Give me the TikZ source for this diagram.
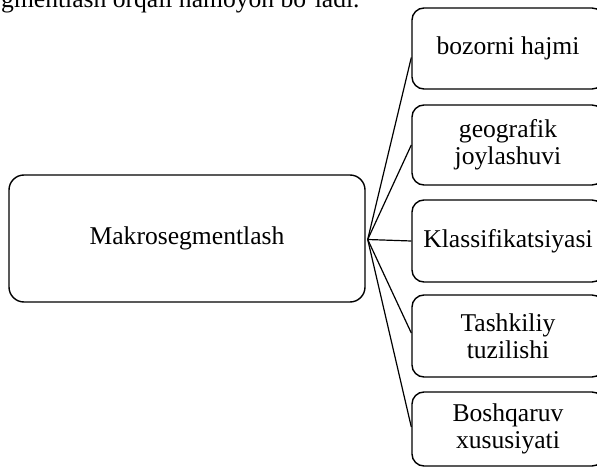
\documentclass[tikz,border=0pt]{standalone}
\usepackage{fontspec}
\setmainfont{Liberation Serif}
\usetikzlibrary{calc}
\begin{document}
\begin{tikzpicture}[x=1pt,y=-1pt,
  every node/.style={font=\fontsize{25.6}{26.5}\selectfont},
  mainbox/.style={draw, line width=1.4pt, rounded corners=15pt,
    minimum width=356pt, minimum height=127pt, inner sep=0pt},
  itembox/.style={draw, line width=1.4pt, rounded corners=12pt,
    minimum width=192pt, inner sep=0pt, align=center},
  link/.style={line width=1.2pt}]
  \useasboundingbox (0,0) rectangle (597,470);
  \begin{scope}
    \clip (0,0) rectangle (597,470);
    % running text of the page, cut by the top edge
    \node[anchor=base west, inner sep=0pt] (lead) at (1,8)
      {gmentlash orqali namoyon bo'ladi.};
    % central box
    \node[mainbox] (main) at (187,238.5) {Makrosegmentlash};
    % column of features
    \node[itembox, minimum height=81pt] (b1) at (508,48.5) {bozorni hajmi};
    \node[itembox, minimum height=80pt] (b2) at (508,145) {geografik\\joylashuvi};
    \node[itembox, minimum height=82pt] (b3) at (508,241) {Klassifikatsiyasi};
    \node[itembox, minimum height=82pt] (b4) at (508,336) {Tashkiliy\\tuzilishi};
    \node[itembox, minimum height=74pt] (b5) at (508,429) {Boshqaruv\\xususiyati};
    % fan of connectors
    \coordinate (fan) at ($(main.east)+(2,1)$);
    \draw[link] (fan) -- ($(b1.west)+(0,9)$);
    \draw[link] (fan) -- (b2.west);
    \draw[link] (fan) -- (b3.west);
    \draw[link] (fan) -- ($(b4.west)+(0,-3)$);
    \draw[link] (fan) -- ($(b5.west)+(0,-2)$);
  \end{scope}
\end{tikzpicture}
\end{document}
